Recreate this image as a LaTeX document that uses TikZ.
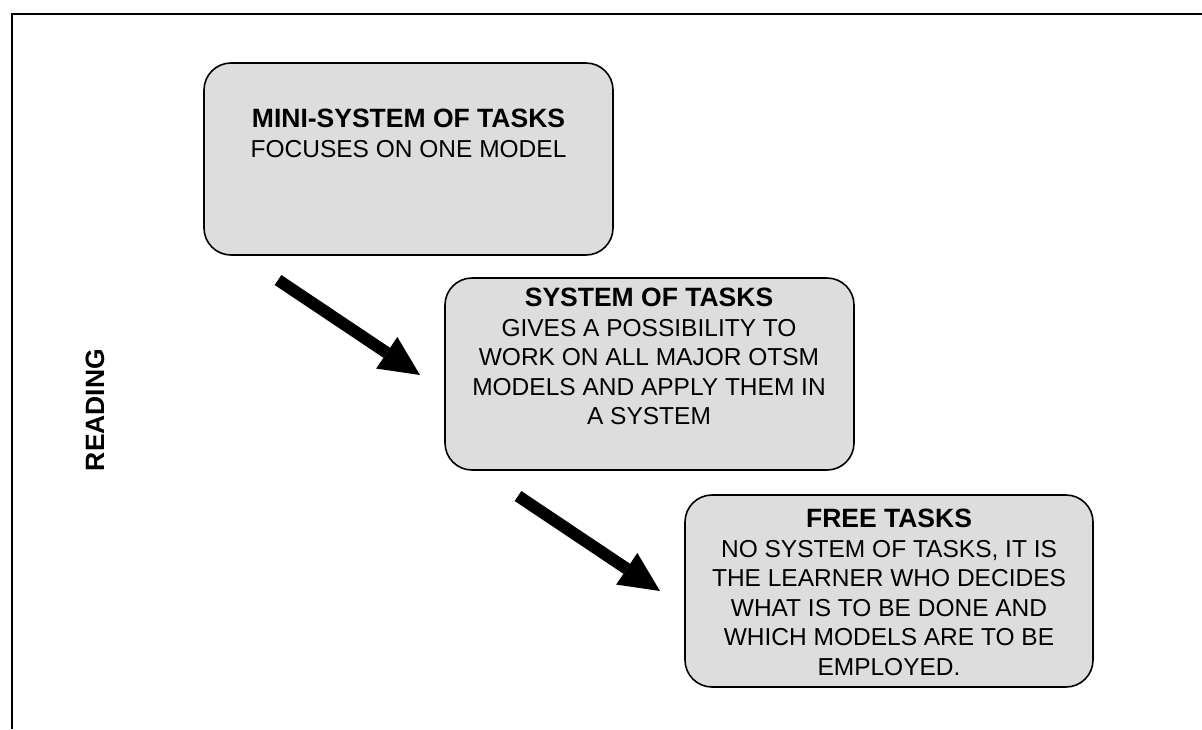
\documentclass[tikz,border=0pt]{standalone}
\usepackage{fontspec}
\setmainfont{Liberation Sans}
\usetikzlibrary{arrows.meta}
\definecolor{boxgray}{RGB}{221,221,221}
\begin{document}
\begin{tikzpicture}[x=1pt,y=-1pt,
  taskbox/.style={draw=black, line width=1.6pt, fill=boxgray, rounded corners=27pt,
    anchor=north west, inner sep=0pt, outer sep=0pt},
  tasktext/.style={anchor=north, align=center, inner sep=0pt,
    font=\fontsize{24.5}{29.5}\selectfont},
  headline/.style={font=\bfseries\fontsize{26.5}{29.5}\selectfont},
  flow/.style={line width=12pt, -{Triangle[length=40pt,width=38pt,line width=0pt]}},
  frameline/.style={line width=2.2pt}
]
\useasboundingbox (0,0) rectangle (1202,729);

% open frame: top and left edges only
\coordinate (fbl) at (12,729);
\coordinate (ftl) at (12,14);
\coordinate (ftr) at (1202,14);
\draw[frameline] (fbl) -- (ftl) -- (ftr);

% the three task boxes
\node[taskbox, minimum width=409pt, minimum height=192pt] (mini) at (204,63) {};
\node[taskbox, minimum width=409pt, minimum height=192pt] (sys) at (445,278) {};
\node[taskbox, minimum width=408pt, minimum height=192pt] (free) at (685,495) {};

% box texts
\node[tasktext] (minit) at (408.5,109)
  {{\bfseries\fontsize{26.5}{29.5}\selectfont MINI-SYSTEM OF TASKS}\\
   FOCUSES ON ONE MODEL};
\node[tasktext] (syst) at (649,288)
  {{\bfseries\fontsize{26.5}{29.5}\selectfont SYSTEM OF TASKS}\\
   GIVES A POSSIBILITY TO\\
   WORK ON ALL MAJOR OTSM\\
   MODELS AND APPLY THEM IN\\
   A SYSTEM};
\node[tasktext] (freet) at (889,509)
  {{\bfseries\fontsize{26.5}{29.5}\selectfont FREE TASKS}\\
   NO SYSTEM OF TASKS, IT IS\\
   THE LEARNER WHO DECIDES\\
   WHAT IS TO BE DONE AND\\
   WHICH MODELS ARE TO BE\\
   EMPLOYED.};

% side label
\node[headline, rotate=90, inner sep=0pt] (reading) at (95,410) {READING};

% flow arrows between the stages
\coordinate (a1s) at (278,280);
\coordinate (a1e) at (420,375);
\draw[flow] (a1s) -- (a1e);
\coordinate (a2s) at (518,496);
\coordinate (a2e) at (660,591);
\draw[flow] (a2s) -- (a2e);
\end{tikzpicture}
\end{document}
